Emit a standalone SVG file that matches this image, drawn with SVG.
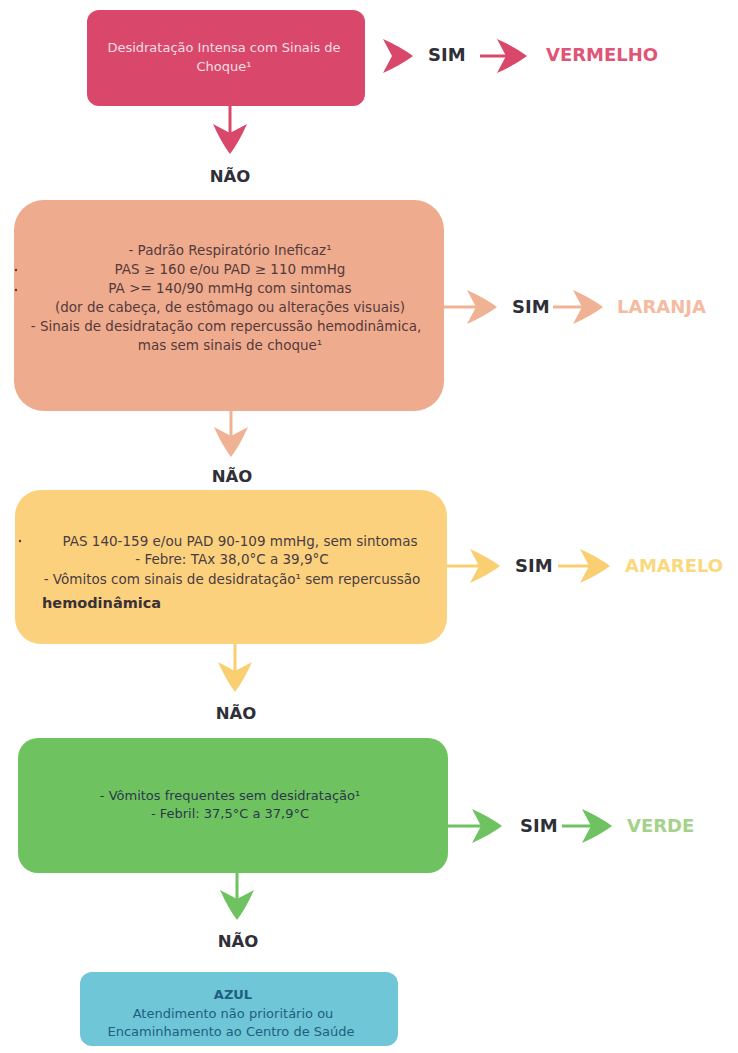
<svg xmlns="http://www.w3.org/2000/svg" xmlns:xlink="http://www.w3.org/1999/xlink" width="738" height="1053" viewBox="0 0 738 1053">
  <style>
    .box-text { font-family: "DejaVu Sans", Verdana, sans-serif; text-anchor: middle; }
    .lbl { font-family: "DejaVu Sans", Verdana, sans-serif; font-weight: bold; fill: #2f2f38; }
    .sim { font-size: 18px; }
    .nao { font-size: 16.5px; text-anchor: middle; }
    .res { font-family: "DejaVu Sans", Verdana, sans-serif; font-weight: bold; font-size: 18px; }
  </style>
  <defs>
    <!-- notched arrowhead, tip at origin, pointing right -->
    <path id="ah" d="M0,0 Q-12,-9 -30,-17 L-21,0 L-30,17 Q-12,9 0,0 Z"/>
  </defs>

  <rect width="738" height="1053" fill="#ffffff"/>

  <!-- red -->
  <g id="node-vermelho">
    <rect x="87" y="10" width="278" height="96" rx="12" fill="#d9486b"/>
    <g class="box-text" font-size="13px" fill="#f7dde4">
      <text x="224" y="52">Desidratação Intensa com Sinais de</text>
      <text x="224" y="71">Choque¹</text>
    </g>
  </g>
  <g id="out-vermelho">
    <text class="lbl sim" x="428" y="61">SIM</text>
    <text class="res" fill="#e05577" x="546" y="61">VERMELHO</text>
  </g>

  <!-- orange -->
  <g id="node-laranja">
    <rect x="14" y="200" width="430" height="211" rx="30" fill="#eeab8d"/>
    <g class="box-text" font-size="13.5px" fill="#553a3c">
      <text x="230" y="255">- Padrão Respiratório Ineficaz¹</text>
      <text x="230" y="274">PAS ≥ 160 e/ou PAD ≥ 110 mmHg</text>
      <text x="230" y="293">PA &gt;= 140/90 mmHg com sintomas</text>
      <text x="230" y="312">(dor de cabeça, de estômago ou alterações visuais)</text>
      <text x="226" y="331">- Sinais de desidratação com repercussão hemodinâmica,</text>
      <text x="230" y="350">mas sem sinais de choque¹</text>
    </g>
    <circle cx="16" cy="270" r="1.2" fill="#553a3c"/>
    <circle cx="16" cy="290" r="1.2" fill="#553a3c"/>
  </g>
  <g id="out-laranja">
    <text class="lbl sim" x="512" y="313">SIM</text>
    <text class="res" fill="#f4bba0" x="617" y="313">LARANJA</text>
  </g>

  <!-- yellow -->
  <g id="node-amarelo">
    <rect x="15" y="490" width="432" height="154" rx="26" fill="#fbd17d"/>
    <g class="box-text" font-size="13.5px" fill="#4a3c42">
      <text x="240" y="546">PAS 140-159 e/ou PAD 90-109 mmHg, sem sintomas</text>
      <text x="232" y="564">- Febre: TAx 38,0°C a 39,9°C</text>
      <text x="232" y="584">- Vômitos com sinais de desidratação¹ sem repercussão</text>
    </g>
    <text x="42" y="608" font-family="DejaVu Sans, Verdana, sans-serif" font-weight="bold" font-size="14.5px" fill="#3a3036">hemodinâmica</text>
    <circle cx="20" cy="541" r="1.2" fill="#4a3c42"/>
  </g>
  <g id="out-amarelo">
    <text class="lbl sim" x="515" y="572">SIM</text>
    <text class="res" fill="#fad97e" x="625" y="572">AMARELO</text>
  </g>

  <!-- green -->
  <g id="node-verde">
    <rect x="18" y="738" width="430" height="135" rx="20" fill="#6fc260"/>
    <g class="box-text" font-size="13px" fill="#2c384a">
      <text x="230" y="800">- Vômitos frequentes sem desidratação¹</text>
      <text x="230" y="818">- Febril: 37,5°C a 37,9°C</text>
    </g>
  </g>
  <g id="out-verde">
    <text class="lbl sim" x="520" y="832">SIM</text>
    <text class="res" fill="#a4d28a" x="627" y="832">VERDE</text>
  </g>

  <!-- blue -->
  <g id="node-azul">
    <rect x="80" y="972" width="318" height="74" rx="12" fill="#6ec6d6"/>
    <g class="box-text" font-size="13px" fill="#1f5f80">
      <text x="233" y="999" font-weight="bold">AZUL</text>
      <text x="233" y="1018">Atendimento não prioritário ou</text>
      <text x="231" y="1036">Encaminhamento ao Centro de Saúde</text>
    </g>
  </g>

  <!-- NÃO labels -->
  <g id="nao-labels" class="lbl nao">
    <text x="230" y="182">NÃO</text>
    <text x="232" y="482">NÃO</text>
    <text x="236" y="719">NÃO</text>
    <text x="238" y="947">NÃO</text>
  </g>

  <!-- connectors -->
  <g id="connectors" stroke-width="3">
    <!-- red -->
    <use xlink:href="#ah" fill="#d9486b" transform="translate(413,56)"/>
    <line x1="480" y1="56" x2="508" y2="56" stroke="#d9486b"/>
    <use xlink:href="#ah" fill="#d9486b" transform="translate(527,56)"/>
    <line x1="230" y1="106" x2="230" y2="136" stroke="#d9486b"/>
    <use xlink:href="#ah" fill="#d9486b" transform="translate(230,154) rotate(90)"/>
    <!-- orange -->
    <line x1="444" y1="307" x2="479" y2="307" stroke="#f0b294"/>
    <use xlink:href="#ah" fill="#f0b294" transform="translate(497,307)"/>
    <line x1="553" y1="307" x2="585" y2="307" stroke="#f0b294"/>
    <use xlink:href="#ah" fill="#f0b294" transform="translate(603,307)"/>
    <line x1="231" y1="411" x2="231" y2="439" stroke="#f0b294"/>
    <use xlink:href="#ah" fill="#f0b294" transform="translate(231,457) rotate(90)"/>
    <!-- yellow -->
    <line x1="447" y1="566" x2="482" y2="566" stroke="#f9cf72"/>
    <use xlink:href="#ah" fill="#f9cf72" transform="translate(500,566)"/>
    <line x1="558" y1="566" x2="592" y2="566" stroke="#f9cf72"/>
    <use xlink:href="#ah" fill="#f9cf72" transform="translate(610,566)"/>
    <line x1="235" y1="644" x2="235" y2="674" stroke="#f9cf72"/>
    <use xlink:href="#ah" fill="#f9cf72" transform="translate(235,692) rotate(90)"/>
    <!-- green -->
    <line x1="448" y1="826" x2="484" y2="826" stroke="#6fc260"/>
    <use xlink:href="#ah" fill="#6fc260" transform="translate(502,826)"/>
    <line x1="562" y1="826" x2="594" y2="826" stroke="#6fc260"/>
    <use xlink:href="#ah" fill="#6fc260" transform="translate(612,826)"/>
    <line x1="237" y1="873" x2="237" y2="902" stroke="#6fc260"/>
    <use xlink:href="#ah" fill="#6fc260" transform="translate(237,920) rotate(90)"/>
  </g>
</svg>
